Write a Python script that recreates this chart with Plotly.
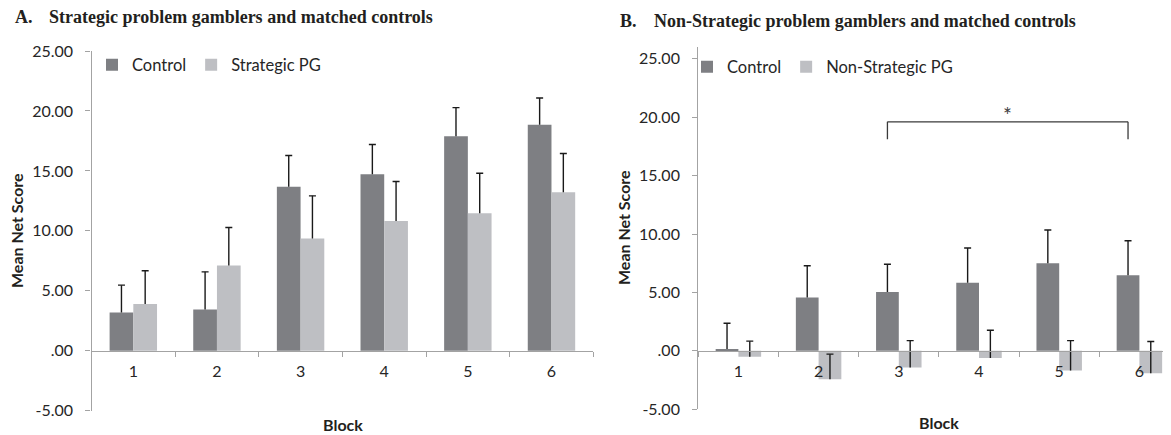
import plotly.graph_objects as go

# ---------------- data ----------------
blocks = ["1", "2", "3", "4", "5", "6"]

a_control = [3.20, 3.45, 13.67, 14.72, 17.89, 18.85]
a_control_err = [2.27, 3.13, 2.61, 2.48, 2.39, 2.23]
a_pg = [3.89, 7.11, 9.36, 10.83, 11.47, 13.22]
a_pg_err = [2.78, 3.17, 3.56, 3.28, 3.34, 3.23]

b_control = [0.17, 4.56, 5.04, 5.84, 7.49, 6.47]
b_control_err = [2.20, 2.73, 2.37, 2.96, 2.85, 2.96]
b_pg = [-0.51, -2.42, -1.43, -0.60, -1.68, -1.91]
b_pg_err = [1.34, 2.14, 2.31, 2.37, 2.56, 2.71]

y_tickvals = [-5, 0, 5, 10, 15, 20, 25]
y_ticktext = ["-5.00", ".00", "5.00", "10.00", "15.00", "20.00", "25.00"]

sig_from, sig_to = "3", "6"
sig_y, sig_leg_y, sig_label_y = 19.6, 18.1, 20.2
sig_label = "*"

title_a = ("A.", "Strategic problem gamblers and matched controls")
title_b = ("B.", "Non-Strategic problem gamblers and matched controls")

# ---------------- style ----------------
PAGE_W, PAGE_H = 1171, 435
BODY = 8  # default page body margin
W, H = PAGE_W - BODY, PAGE_H - BODY
C_DARK = "#7e7f83"
C_LIGHT = "#bebfc3"
ERR = "#1a1a1a"
AX = "#a3a3a3"
TXT = "#262626"
SANS = "Lato"
SERIF = "Liberation Serif"
BARGAP = 0.433


def fx(p):
    """screen pixel x -> paper fraction"""
    return (p - BODY) / W


def fy(p):
    """screen pixel y -> paper fraction"""
    return 1 - (p - BODY) / H


fig = go.Figure()


def add_series(name, vals, errs, color, xa, ya, group, legend):
    zeros = [0] * len(vals)
    fig.add_trace(go.Bar(
        x=blocks, y=vals, name=name, xaxis=xa, yaxis=ya, offsetgroup=group,
        legend=legend, marker=dict(color=color, line=dict(width=0)),
        error_y=dict(type="data", symmetric=False, array=errs, arrayminus=zeros,
                     color=ERR, thickness=1.4, width=0),
    ))
    tops = [v + e for v, e in zip(vals, errs)]
    fig.add_trace(go.Bar(
        x=blocks, y=tops, xaxis=xa, yaxis=ya, offsetgroup=group, showlegend=False,
        hoverinfo="skip", marker=dict(color="rgba(0,0,0,0)", line=dict(width=0)),
        error_y=dict(type="data", symmetric=False, array=zeros, arrayminus=zeros,
                     color=ERR, thickness=1.4, width=3.5),
    ))


add_series("Control", a_control, a_control_err, C_DARK, "x", "y", "c", "legend")
add_series("Strategic PG", a_pg, a_pg_err, C_LIGHT, "x", "y", "p", "legend")
add_series("Control", b_control, b_control_err, C_DARK, "x2", "y2", "c", "legend2")
add_series("Non-Strategic PG", b_pg, b_pg_err, C_LIGHT, "x2", "y2", "p", "legend2")

# axes geometry
yd1 = [fy(410.7), fy(51)]
yr1 = [-5, 25]
yd2 = [fy(409.3), fy(46.7)]
yr2 = [-5, 26.03]


def zero_pos(dom, rng):
    return dom[0] + (0 - rng[0]) / (rng[1] - rng[0]) * (dom[1] - dom[0])


tickfont = dict(family=SANS, size=16, color=TXT)
yax = dict(tickvals=y_tickvals, ticktext=y_ticktext, showline=True, linecolor=AX,
           linewidth=1.3, ticks="outside", ticklen=5, tickcolor=AX, tickwidth=1.3,
           showgrid=False, zeroline=False, tickfont=tickfont, ticklabelstandoff=9,
           automargin=False)
xax = dict(type="category", showline=True, linecolor=AX, linewidth=1.3,
           ticks="outside", tickson="boundaries", ticklen=5, tickcolor=AX, tickwidth=1.3,
           showgrid=False, zeroline=False, tickfont=tickfont, anchor="free",
           ticklabelstandoff=6, automargin=False)

legend_common = dict(orientation="h", xanchor="left", yanchor="middle",
                     bgcolor="rgba(0,0,0,0)", font=dict(family=SANS, size=16.5, color=TXT),
                     itemwidth=30, traceorder="normal")

fig.update_layout(
    template="none",
    width=W, height=H, margin=dict(l=0, r=0, t=0, b=0, autoexpand=False),
    paper_bgcolor="white", plot_bgcolor="white",
    barmode="group", bargap=BARGAP, bargroupgap=0,
    showlegend=True,
    xaxis=dict(xax, domain=[fx(91.5), fx(593.3)], range=[-0.5, 5.5],
               position=zero_pos(yd1, yr1)),
    yaxis=dict(yax, domain=yd1, range=yr1, anchor="x"),
    xaxis2=dict(xax, domain=[fx(698.3), 1.0], range=[-0.5, 5.394],
                position=zero_pos(yd2, yr2)),
    yaxis2=dict(yax, domain=yd2, range=yr2, anchor="x2"),
    legend=dict(legend_common, x=fx(92), y=fy(65)),
    legend2=dict(legend_common, x=fx(687), y=fy(67)),
)

# significance bracket (right panel), anchored on the Control bars
half = (1 - BARGAP) / 4
xa0 = blocks.index(sig_from) - half
xa1 = blocks.index(sig_to) - half
line = dict(color="#3a3a3a", width=1.3)
for (x0, y0, x1, y1) in [(xa0, sig_leg_y, xa0, sig_y), (xa0, sig_y, xa1, sig_y),
                         (xa1, sig_y, xa1, sig_leg_y)]:
    fig.add_shape(type="line", xref="x2", yref="y2", x0=x0, y0=y0, x1=x1, y1=y1, line=line)
fig.add_annotation(xref="x2", yref="y2", x=(xa0 + xa1) / 2, y=sig_label_y, text=sig_label,
                   showarrow=False, font=dict(family=SANS, size=21, color="#404040"))

# titles
for (lab, txt), xl, xt, yc in [(title_a, 13, 47, 17), (title_b, 618, 651.7, 21)]:
    fig.add_annotation(xref="paper", yref="paper", x=fx(xl), y=fy(yc), xanchor="left",
                       yanchor="middle", text=f"<b>{lab}</b>", showarrow=False,
                       font=dict(family=SERIF, size=18, color="#231f20"))
    fig.add_annotation(xref="paper", yref="paper", x=fx(xt), y=fy(yc), xanchor="left",
                       yanchor="middle", text=f"<b>{txt}</b>", showarrow=False,
                       font=dict(family=SERIF, size=18, color="#231f20"))

# axis titles
axfont = dict(family=SANS, size=16, color="#231f20")
for x, y in [(16, 231), (623, 228)]:
    fig.add_annotation(xref="paper", yref="paper", x=fx(x), y=fy(y), text="<b>Mean Net Score</b>",
                       textangle=-90, showarrow=False, font=axfont,
                       xanchor="center", yanchor="middle")
for x, y in [(342.7, 424), (939, 422)]:
    fig.add_annotation(xref="paper", yref="paper", x=fx(x), y=fy(y), text="<b>Block</b>",
                       showarrow=False, font=axfont, xanchor="center", yanchor="middle")

fig.write_html("out.html")
